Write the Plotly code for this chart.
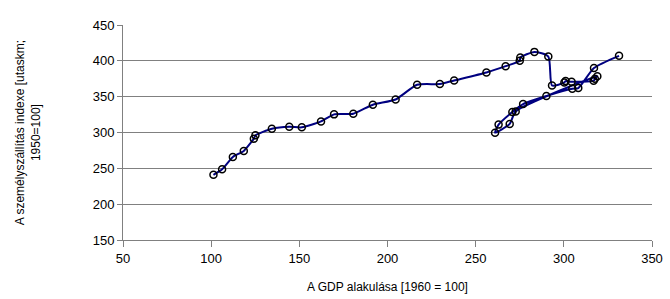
import plotly.graph_objects as go

# GDP index (1960 = 100) and passenger transport index (1950 = 100)
gdp = [101.3, 106.2, 112.3, 118.5, 124.2, 125.1, 134.4, 144.3, 151.4, 162.3,
       169.7, 180.6, 191.7, 204.6, 216.8, 229.7, 237.8, 256.1, 267.0, 275.0,
       275.3, 283.3, 291.2, 293.3, 300.3, 301.0, 304.4, 316.9, 317.6, 319.0,
       272.7, 269.3, 261.0, 263.0, 270.8, 276.9, 290.1, 304.8, 308.2, 317.1,
       331.3]
passenger = [240.9, 248.7, 265.9, 274.3, 291.4, 296.0, 305.3, 308.1, 307.2, 315.5,
             325.3, 326.2, 338.8, 346.1, 366.6, 367.6, 372.6, 383.7, 392.6, 400.0,
             404.5, 412.5, 406.0, 365.6, 369.8, 371.7, 370.8, 372.2, 375.0, 378.5,
             329.4, 312.0, 299.8, 311.0, 328.6, 339.7, 351.0, 361.0, 362.0, 390.0,
             407.0]

x_ticks = [50, 100, 150, 200, 250, 300, 350]
y_ticks = [150, 200, 250, 300, 350, 400, 450]

fig = go.Figure()
fig.add_trace(go.Scatter(
    x=gdp, y=passenger, mode="lines+markers",
    line=dict(color="#000080", width=2, shape="spline", smoothing=0.6),
    marker=dict(symbol="circle-open", size=7, color="#000000",
                line=dict(width=1.5, color="#000000")),
    showlegend=False, cliponaxis=False,
))

font = dict(family="Liberation Sans, Arial, sans-serif", size=13, color="#000000")

fig.update_layout(
    width=670, height=299,
    margin=dict(l=123, r=18, t=25, b=59, autoexpand=False),
    paper_bgcolor="white", plot_bgcolor="white",
    font=font,
    xaxis=dict(range=[50, 350], tickvals=x_ticks, showgrid=False,
               showline=True, linecolor="#808080", linewidth=1,
               ticks="outside", ticklen=6, tickcolor="#808080",
               zeroline=False, tickfont=font, automargin=False),
    yaxis=dict(range=[150, 450], tickvals=y_ticks, showgrid=True,
               gridcolor="#808080", gridwidth=1,
               showline=True, linecolor="#808080", linewidth=1,
               ticks="outside", ticklen=5, tickcolor="#808080",
               zeroline=False, tickfont=font, automargin=False),
    annotations=[
        dict(text="A GDP alakulása [1960 = 100]", xref="paper", yref="paper",
             x=0.5, y=-0.219, xanchor="center", yanchor="middle",
             showarrow=False, font=dict(family=font["family"], size=12)),
        dict(text="A személyszállítás indexe [utaskm;<br>1950=100]",
             xref="paper", yref="paper", x=-0.18, y=0.5,
             xanchor="center", yanchor="middle", textangle=-90,
             showarrow=False, font=dict(family=font["family"], size=12)),
    ],
)

fig.write_html("out.html", config={"displayModeBar": False},
               post_script="document.body.style.margin='0';document.body.style.overflow='hidden';")
